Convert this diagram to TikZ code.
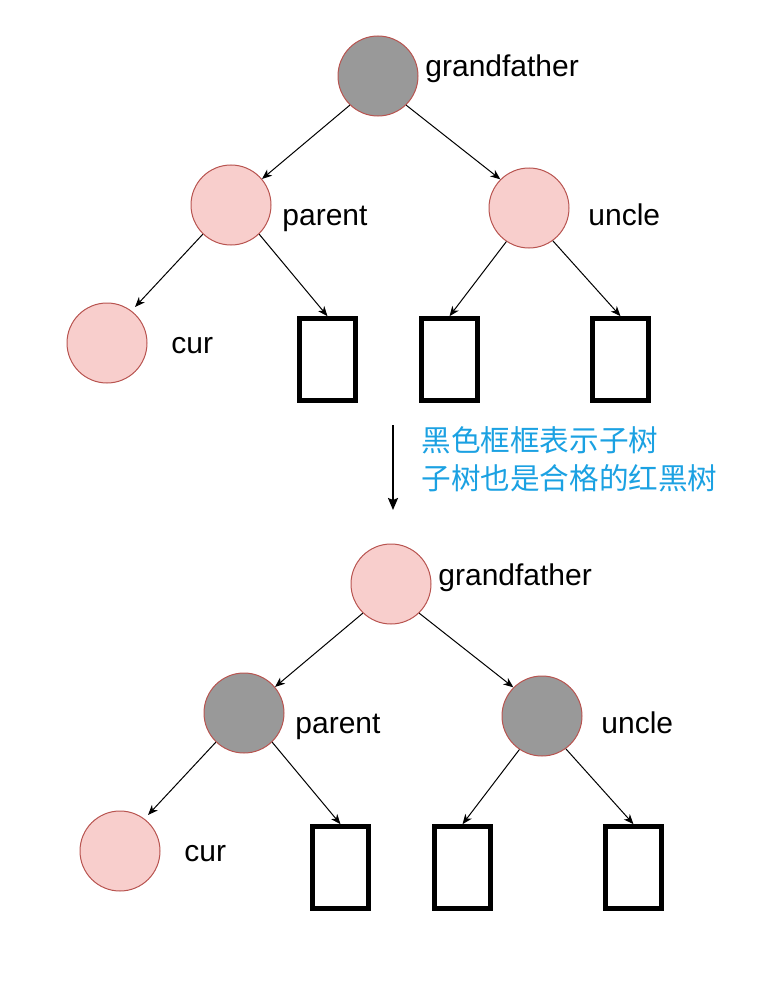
\documentclass[tikz,border=0pt]{standalone}
\usepackage{fontspec}
\setmainfont{Liberation Sans}
\newfontfamily\cjk{Noto Sans CJK SC}
\usetikzlibrary{arrows.meta}
\definecolor{nodegray}{HTML}{999999}
\definecolor{nodepink}{HTML}{F8CECC}
\definecolor{nodeedge}{HTML}{B85450}
\definecolor{noteblue}{HTML}{1BA1E2}
\tikzset{
  blk/.style={circle,draw=nodeedge,fill=nodegray,line width=0.5pt,minimum size=40pt,inner sep=0pt},
  red/.style={circle,draw=nodeedge,fill=nodepink,line width=0.5pt,minimum size=40pt,inner sep=0pt},
  subtree/.style={rectangle,draw=black,line width=2.3pt,minimum width=28pt,minimum height=41pt,inner sep=0pt},
  lbl/.style={anchor=base west,inner sep=0pt,font=\fontsize{15}{18}\selectfont},
  edge/.style={line width=0.5pt,-{Stealth[length=5pt,width=4pt,inset=1.5pt]}},
  bigarrow/.style={line width=1pt,-{Stealth[length=6pt,width=5pt,inset=1pt]}}
}
\begin{document}
\begin{tikzpicture}[x=0.5pt,y=-0.5pt]
\useasboundingbox (0,0) rectangle (773,1006);
% ---------- top tree ----------
\node[blk] (g1) at (378,76) {};
\node[red] (p1) at (231,205) {};
\node[red] (u1) at (529,208) {};
\node[red] (c1) at (107,343) {};
\node[subtree] (a1) at (327.5,359.5) {};
\node[subtree] (b1) at (449.5,359.5) {};
\node[subtree] (d1) at (620.5,359.5) {};
\node[lbl] (tg1) at (425,77) {grandfather};
\node[lbl] (tp1) at (282,225) {parent};
\node[lbl] (tu1) at (588,225) {uncle};
\node[lbl] (tc1) at (171,353) {cur};
\draw[edge] (g1.-134) -- (p1.40);
\draw[edge] (g1.-46) -- (u1.135);
\draw[edge] (p1.-134) -- ([shift={(2,-5)}]c1.50);
\draw[edge] (p1.-46) -- (a1.north);
\draw[edge] (u1.-124) -- (b1.north);
\draw[edge] (u1.-54) -- (d1.north);
% ---------- middle ----------
\coordinate (m0) at (393,425);
\coordinate (m1) at (393,510);
\draw[bigarrow] (m0) -- (m1);
\node[anchor=north west,inner sep=0pt,text=noteblue,align=left,
      font=\cjk\fontsize{14.8}{19}\selectfont] (note) at (421,426)
  {黑色框框表示子树\\子树也是合格的红黑树};
% ---------- bottom tree ----------
\node[red] (g2) at (391,584) {};
\node[blk] (p2) at (244,713) {};
\node[blk] (u2) at (542,716) {};
\node[red] (c2) at (120,851) {};
\node[subtree] (a2) at (340.5,867.5) {};
\node[subtree] (b2) at (462.5,867.5) {};
\node[subtree] (d2) at (633.5,867.5) {};
\node[lbl] (tg2) at (438,585) {grandfather};
\node[lbl] (tp2) at (295,733) {parent};
\node[lbl] (tu2) at (601,733) {uncle};
\node[lbl] (tc2) at (184,861) {cur};
\draw[edge] (g2.-134) -- (p2.40);
\draw[edge] (g2.-46) -- (u2.135);
\draw[edge] (p2.-134) -- ([shift={(2,-5)}]c2.50);
\draw[edge] (p2.-46) -- (a2.north);
\draw[edge] (u2.-124) -- (b2.north);
\draw[edge] (u2.-54) -- (d2.north);
\end{tikzpicture}
\end{document}
